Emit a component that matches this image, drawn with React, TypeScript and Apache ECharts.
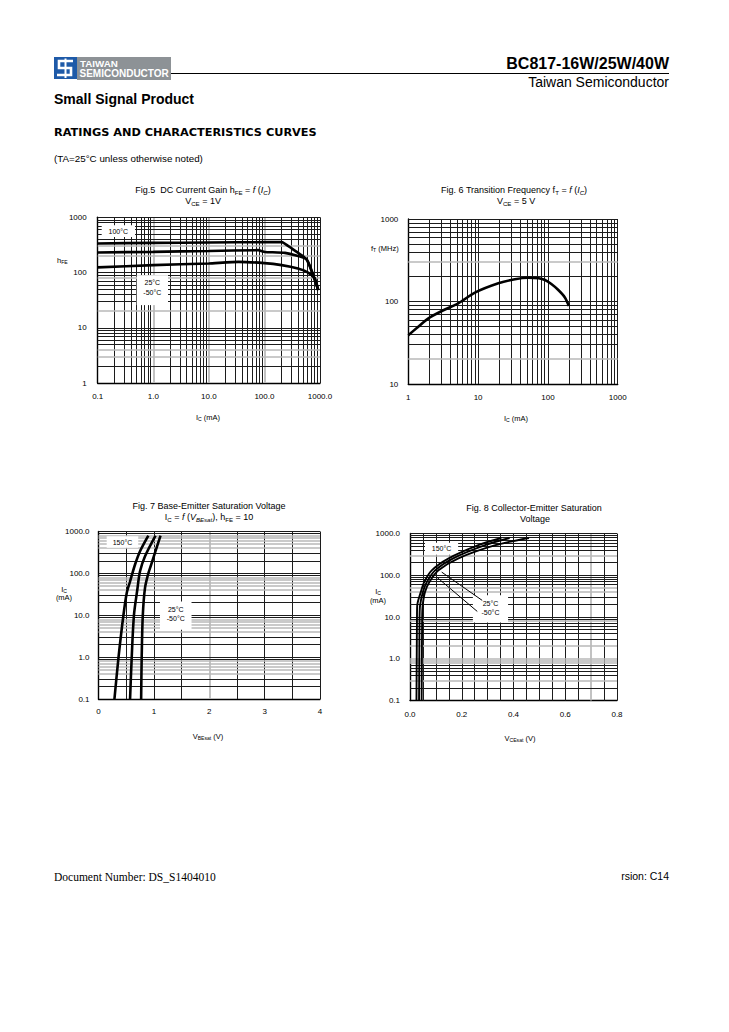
import { useEffect, useRef } from "react";
import * as echarts from "echarts";

const SANS = "'Liberation Sans', Arial, Helvetica, sans-serif";
const SERIF = "'Liberation Serif', 'Times New Roman', serif";

// ---------- tick labels ----------
const fig5XLabels = ["0.1", "1.0", "10.0", "100.0", "1000.0"];
const fig5YLabels = ["1", "10", "100", "1000"];
const fig6XLabels = ["1", "10", "100", "1000"];
const fig6YLabels = ["10", "100", "1000"];
const fig7XLabels = ["0", "1", "2", "3", "4"];
const fig7YLabels = ["0.1", "1.0", "10.0", "100.0", "1000.0"];
const fig8XLabels = ["0.0", "0.2", "0.4", "0.6", "0.8"];
const fig8YLabels = ["0.1", "1.0", "10.0", "100.0", "1000.0"];

// ---------- Fig.5 DC current gain: IC (mA) -> hFE ----------
const fig5Ic100 = [0.1, 1, 10, 100, 204, 309, 573, 930];
const fig5Hfe100 = [336, 344, 350, 355, 355, 273, 173, 48];
const fig5Ic25 = [0.1, 1, 10, 77, 102, 234, 573, 930];
const fig5Hfe25 = [231, 237, 246, 254, 236, 227, 173, 48];
const fig5IcM50 = [0.1, 1, 10, 34, 100, 204, 400, 612, 810, 930];
const fig5HfeM50 = [124, 136, 146, 156, 148, 136, 118, 100, 78, 48];

// ---------- Fig.6 transition frequency: IC (mA) -> fT (MHz) ----------
const fig6Ic = [1, 1.39, 1.94, 3.35, 5.2, 9, 19.5, 33.6, 52, 74, 91, 112, 141, 175, 200];
const fig6Ft = [39, 49.5, 62.6, 80, 95, 128, 166, 186, 194, 191, 182, 163, 138, 112, 88];

// ---------- Fig.7 VBEsat (V) -> IC (mA) ----------
const fig7V150 = [0.288, 0.36, 0.45, 0.51, 0.57, 0.66, 0.75, 0.9];
const fig7Ic150 = [0.1, 0.95, 10, 34, 64, 163, 339, 800];
const fig7V25 = [0.57, 0.6, 0.64, 0.7, 0.75, 0.84, 1.03];
const fig7Ic25 = [0.1, 1, 10, 40, 112, 257, 800];
const fig7VM50 = [0.77, 0.78, 0.8, 0.84, 0.9, 0.95, 1.12];
const fig7IcM50 = [0.1, 1, 10, 45, 100, 160, 800];

// ---------- Fig.8 VCEsat (V) -> IC (mA) ----------
const fig8V150 = [0.025, 0.026, 0.027, 0.028, 0.042, 0.055, 0.084, 0.148, 0.264, 0.353];
const fig8Ic150 = [0.1, 1, 10, 19, 40, 69, 131, 251, 525, 780];
const fig8V25 = [0.035, 0.036, 0.037, 0.039, 0.05, 0.065, 0.097, 0.165, 0.29, 0.385];
const fig8Ic25 = [0.1, 1, 10, 19, 40, 69, 131, 251, 525, 780];
const fig8VM50 = [0.045, 0.046, 0.047, 0.049, 0.058, 0.075, 0.11, 0.185, 0.33, 0.46];
const fig8IcM50 = [0.1, 1, 10, 19, 40, 69, 131, 251, 525, 780];

// ---------- grid-line shading (values drawn in light grey) ----------
const fig5GrayX = [1, 10, 100];
const fig5GrayY = [3, 4, 20, 80, 200, 300];
const fig6GrayX: number[] = [];
const fig6GrayY = [20, 300];
const fig7GrayX = [2];
const fig7GrayY = [0.4, 0.5, 0.6, 0.7, 0.8, 4, 5, 6, 7, 8, 40, 50, 60, 70, 80, 400, 500, 600, 700, 800];
const fig8GrayX = [0.7];
const fig8GrayY = [0.3, 0.8, 0.9, 1, 2, 8, 40, 50, 300];

// ---------- annotation boxes (data coords) ----------
const fig5Boxes = [
  { from: [0.118, 719], to: [0.469, 442], text: "100°C", pos: "inside" },
  { from: [0.503, 89.8], to: [1.84, 25.7], text: "25°C\n-50°C", pos: "insideTop" },
];
const fig7Boxes = [
  { from: [0.148, 771], to: [0.718, 407], text: "150°C", pos: "inside" },
  { from: [1.11, 21.4], to: [1.68, 4.5], text: "25°C\n-50°C", pos: "insideTop" },
];
const fig8Boxes = [
  { from: [0.058, 603], to: [0.186, 309], text: "150°C", pos: "inside" },
  { from: [0.243, 33], to: [0.379, 7.4], text: "25°C\n-50°C", pos: "insideTop" },
];
const fig8Leaders = [
  [[0.1225, 119], [0.279, 25]],
  [[0.103, 90.6], [0.26, 13.6]],
];

// ---------- helpers ----------
const zip = (xs: number[], ys: number[]) => xs.map((x, i) => [x, ys[i]]);

function logLines(min: number, max: number) {
  const out: number[] = [];
  const e0 = Math.round(Math.log10(min));
  const e1 = Math.round(Math.log10(max));
  for (let e = e0; e < e1; e++) {
    for (let k = 1; k <= 9; k++) {
      if (e === e0 && k === 1) continue;
      out.push(Number((k * Math.pow(10, e)).toPrecision(6)));
    }
  }
  out.push(max);
  return out;
}
function linLines(min: number, max: number, step: number) {
  const out: number[] = [];
  const n = Math.round((max - min) / step);
  for (let i = 1; i <= n; i++) out.push(Number((min + i * step).toPrecision(6)));
  return out;
}
const isIn = (v: number, arr: number[]) => arr.some((g) => Math.abs(g - v) <= Math.abs(v) * 1e-6);
const BLACK_LINE = { color: "#1c1c1c", width: 1, type: "solid" };
const GRAY_LINE = { color: "#b8b8b8", width: 1.7, type: "solid" };

function gridSeries(idx: number, xs: number[], ys: number[], grayX: number[], grayY: number[]) {
  const data: any[] = [];
  xs.forEach((v) => data.push({ xAxis: v, lineStyle: isIn(v, grayX) ? GRAY_LINE : BLACK_LINE }));
  ys.forEach((v) => data.push({ yAxis: v, lineStyle: isIn(v, grayY) ? GRAY_LINE : BLACK_LINE }));
  return {
    type: "line",
    xAxisIndex: idx,
    yAxisIndex: idx,
    data: [],
    silent: true,
    z: 1,
    markLine: {
      z: 1,
      silent: true,
      animation: false,
      symbol: ["none", "none"],
      label: { show: false },
      emphasis: { disabled: true },
      data,
    },
  };
}

function boxSeries(idx: number, boxes: any[]) {
  return {
    type: "line",
    xAxisIndex: idx,
    yAxisIndex: idx,
    data: [],
    silent: true,
    z: 2,
    markArea: {
      z: 2,
      silent: true,
      animation: false,
      itemStyle: { color: "#ffffff", opacity: 1, borderWidth: 0 },
      emphasis: { disabled: true },
      data: boxes.map((b) => [
        {
          coord: b.from,
          label: {
            show: true,
            position: b.pos,
            distance: 3,
            formatter: b.text,
            color: "#000",
            fontSize: 7,
            lineHeight: 9.5,
            fontFamily: SANS,
          },
        },
        { coord: b.to },
      ]),
    },
  };
}

function curve(idx: number, xs: number[], ys: number[], extra: any = {}) {
  return {
    type: "line",
    xAxisIndex: idx,
    yAxisIndex: idx,
    data: zip(xs, ys),
    showSymbol: false,
    symbol: "none",
    smooth: 0.3,
    silent: true,
    z: 4,
    lineStyle: { color: "#000", width: 2.6 },
    ...extra,
  };
}

const labelStyle = { color: "#000", fontSize: 8, fontFamily: SANS };
const axisLine = { show: true, lineStyle: { color: "#000", width: 1.4 } };

function logAxis(labels: string[], margin: number, extra: any = {}) {
  const min = parseFloat(labels[0]);
  const max = parseFloat(labels[labels.length - 1]);
  return {
    type: "log",
    logBase: 10,
    min,
    max,
    axisLine,
    axisTick: { show: false },
    splitLine: { show: false },
    axisLabel: {
      ...labelStyle,
      margin,
      formatter: (v: number) => labels[Math.round(Math.log10(v / min))] ?? "",
    },
    ...extra,
  };
}
function valAxis(labels: string[], margin: number, extra: any = {}) {
  const min = parseFloat(labels[0]);
  const max = parseFloat(labels[labels.length - 1]);
  const interval = Number(((max - min) / (labels.length - 1)).toPrecision(6));
  return {
    type: "value",
    min,
    max,
    interval,
    axisLine,
    axisTick: { show: false },
    splitLine: { show: false },
    axisLabel: {
      ...labelStyle,
      margin,
      formatter: (v: number) => labels[Math.round((v - min) / interval)] ?? "",
    },
    ...extra,
  };
}

// rich text styles
function rich(fs: number) {
  const sub = fs * 0.68;
  return {
    t: { fontSize: fs, fontFamily: SANS, lineHeight: fs + 2 },
    i: { fontSize: fs, fontFamily: SANS, fontStyle: "italic", lineHeight: fs + 2 },
    s: { fontSize: sub, fontFamily: SANS, verticalAlign: "bottom", lineHeight: sub - 1 },
    si: { fontSize: sub, fontFamily: SANS, fontStyle: "italic", verticalAlign: "bottom", lineHeight: sub - 1 },
  };
}
function rtext(x: number, y: number, text: string, fs: number, align = "center") {
  return {
    type: "text",
    x,
    y,
    silent: true,
    z: 10,
    style: { text, fill: "#000", align, verticalAlign: "middle", rich: rich(fs), fontSize: fs, fontFamily: SANS },
  };
}
function ptext(x: number, y: number, text: string, o: any = {}) {
  return {
    type: "text",
    x,
    y,
    silent: true,
    z: 10,
    style: {
      text,
      fill: o.fill ?? "#000",
      align: o.align ?? "left",
      verticalAlign: "middle",
      fontSize: o.fontSize ?? 9,
      fontFamily: o.fontFamily ?? SANS,
      fontWeight: o.fontWeight ?? "normal",
    },
  };
}

function buildOption() {
  const grids = [
    { left: 97.7, top: 217.3, width: 222.3, height: 165.7 },
    { left: 408.3, top: 219, width: 209.4, height: 165 },
    { left: 98.5, top: 531.5, width: 221.5, height: 167.5 },
    { left: 410, top: 533.5, width: 207, height: 167 },
  ];

  const xAxis = [
    logAxis(fig5XLabels, 9, { gridIndex: 0 }),
    logAxis(fig6XLabels, 9, { gridIndex: 1 }),
    valAxis(fig7XLabels, 8, { gridIndex: 2 }),
    valAxis(fig8XLabels, 10, { gridIndex: 3 }),
  ];
  const yAxis = [
    logAxis(fig5YLabels, 11, { gridIndex: 0 }),
    logAxis(fig6YLabels, 10, { gridIndex: 1 }),
    logAxis(fig7YLabels, 9, { gridIndex: 2 }),
    logAxis(fig8YLabels, 10, { gridIndex: 3 }),
  ];

  const p = (l: string[]) => [parseFloat(l[0]), parseFloat(l[l.length - 1])];
  const [x5a, x5b] = p(fig5XLabels), [y5a, y5b] = p(fig5YLabels);
  const [x6a, x6b] = p(fig6XLabels), [y6a, y6b] = p(fig6YLabels);
  const [x7a, x7b] = p(fig7XLabels), [y7a, y7b] = p(fig7YLabels);
  const [x8a, x8b] = p(fig8XLabels), [y8a, y8b] = p(fig8YLabels);

  const thin = { lineStyle: { color: "#000", width: 1.9 } };

  const series: any[] = [
    gridSeries(0, logLines(x5a, x5b), logLines(y5a, y5b), fig5GrayX, fig5GrayY),
    gridSeries(1, logLines(x6a, x6b), logLines(y6a, y6b), fig6GrayX, fig6GrayY),
    gridSeries(2, linLines(x7a, x7b, 0.5), logLines(y7a, y7b), fig7GrayX, fig7GrayY),
    gridSeries(3, linLines(x8a, x8b, 0.05), logLines(y8a, y8b), fig8GrayX, fig8GrayY),
    boxSeries(0, fig5Boxes),
    boxSeries(2, fig7Boxes),
    boxSeries(3, fig8Boxes),
    curve(0, fig5Ic100, fig5Hfe100, { smooth: 0.15 }),
    curve(0, fig5Ic25, fig5Hfe25, { smooth: 0.15 }),
    curve(0, fig5IcM50, fig5HfeM50, { smooth: 0.15 }),
    curve(1, fig6Ic, fig6Ft),
    curve(2, fig7V150, fig7Ic150),
    curve(2, fig7V25, fig7Ic25),
    curve(2, fig7VM50, fig7IcM50),
    curve(3, fig8V150, fig8Ic150, {
      ...thin,
      markLine: {
        z: 3,
        silent: true,
        animation: false,
        symbol: ["none", "none"],
        label: { show: false },
        emphasis: { disabled: true },
        lineStyle: { color: "#000", width: 1, type: "solid" },
        data: fig8Leaders.map((l) => [{ coord: l[0] }, { coord: l[1] }]),
      },
    }),
    curve(3, fig8V25, fig8Ic25, thin),
    curve(3, fig8VM50, fig8IcM50, thin),
  ];

  const graphic: any[] = [
    // header logo
    { type: "rect", silent: true, shape: { x: 54, y: 57, width: 23, height: 22 }, style: { fill: "#1e5aa8" } },
    { type: "rect", silent: true, shape: { x: 77, y: 57, width: 94, height: 23 }, style: { fill: "#8d9296" } },
    {
      type: "polyline",
      silent: true,
      shape: { points: [[73, 61], [59, 61], [59, 68], [71, 68], [71, 75], [57, 75]] },
      style: { stroke: "#fff", lineWidth: 2.6, fill: null },
    },
    { type: "line", silent: true, shape: { x1: 65.5, y1: 58.5, x2: 65.5, y2: 78 }, style: { stroke: "#fff", lineWidth: 2 } },
    ptext(80, 63.3, "TAIWAN", { fill: "#fff", fontWeight: "bold", fontSize: 9.8 }),
    ptext(79.5, 73.8, "SEMICONDUCTOR", { fill: "#fff", fontWeight: "bold", fontSize: 10 }),
    { type: "line", silent: true, shape: { x1: 171, y1: 73.5, x2: 669, y2: 73.5 }, style: { stroke: "#000", lineWidth: 1 } },
    ptext(669, 63.5, "BC817-16W/25W/40W", { align: "right", fontWeight: "bold", fontSize: 16 }),
    ptext(669, 81.5, "Taiwan Semiconductor", { align: "right", fontSize: 14 }),
    ptext(54, 98.5, "Small Signal Product", { fontWeight: "bold", fontSize: 14 }),
    ptext(54, 132.5, "RATINGS AND CHARACTERISTICS CURVES", { fontWeight: "bold", fontSize: 11.3, fontFamily: "'DejaVu Sans', sans-serif" }),
    ptext(54, 158, "(TA=25°C unless otherwise noted)", { fontSize: 9.8 }),
    // footer
    ptext(54, 876.5, "Document Number: DS_S1404010", { fontSize: 11.5, fontFamily: SERIF }),
    ptext(669, 876, "rsion: C14", { align: "right", fontSize: 10.5 }),

    // Fig 5 titles / axis names
    rtext(203, 190, "{t|Fig.5  DC Current Gain h}{s|FE}{t| = }{i|f}{t| (}{i|I}{si|C}{t|)}", 9),
    rtext(203, 201, "{t|V}{s|CE}{t| = 1V}", 9),
    rtext(208, 417, "{t|I}{s|C}{t| (mA)}", 7.5),
    rtext(57, 260, "{t|h}{s|FE}", 7.5, "left"),

    // Fig 6
    rtext(514, 190, "{t|Fig. 6 Transition Frequency f}{s|T}{t| = }{i|f}{t| (}{i|I}{si|C}{t|)}", 9),
    rtext(516, 201, "{t|V}{s|CE}{t| = 5 V}", 9),
    rtext(516, 418, "{t|I}{s|C}{t| (mA)}", 7.5),
    rtext(371, 248, "{t|f}{s|T}{t| (MHz)}", 7.5, "left"),

    // Fig 7
    rtext(209, 506, "{t|Fig. 7 Base-Emitter Saturation Voltage}", 9),
    rtext(209, 517, "{t|I}{s|C}{t| = }{i|f}{t| (}{i|V}{si|BEsat}{t|), h}{s|FE}{t| = 10}", 9),
    rtext(208, 736, "{t|V}{s|BEsat}{t| (V)}", 7.5),
    rtext(64, 589, "{t|I}{s|C}", 7.5),
    rtext(64, 597.5, "{t|(mA)}", 7.5),

    // Fig 8
    rtext(534, 508, "{t|Fig. 8 Collector-Emitter Saturation}", 9),
    rtext(535, 518.5, "{t|Voltage}", 9),
    rtext(520, 738, "{t|V}{s|CEsat}{t| (V)}", 7.5),
    rtext(378, 591, "{t|I}{s|C}", 7.5),
    rtext(378, 600, "{t|(mA)}", 7.5),
  ];

  return {
    animation: false,
    backgroundColor: "#ffffff",
    textStyle: { fontFamily: SANS },
    grid: grids.map((g) => ({ ...g, containLabel: false })),
    xAxis,
    yAxis,
    series,
    graphic: { elements: graphic },
  };
}

export default function App() {
  const ref = useRef<HTMLDivElement>(null);
  useEffect(() => {
    if (!ref.current) return;
    const chart = echarts.init(ref.current, null, { renderer: "svg", width: 729, height: 1032 });
    chart.setOption(buildOption() as any);
    return () => chart.dispose();
  }, []);
  return (
    <div
      ref={ref}
      style={{ position: "absolute", left: 0, top: 0, width: 729, height: 1032, background: "#fff" }}
    />
  );
}
